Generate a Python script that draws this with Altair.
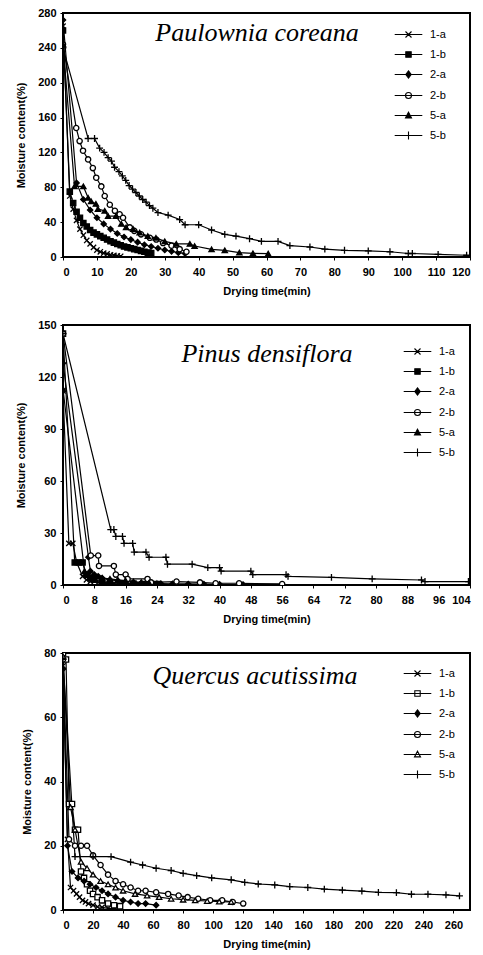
import altair as alt
import pandas as pd

SERIES = ["1-a", "1-b", "2-a", "2-b", "5-a", "5-b"]

# ---------------- Paulownia coreana ----------------
PC_1A_T = [0, 2, 3, 4, 5, 6, 7, 8, 9, 10, 11, 12, 13, 14, 15, 16, 17]
PC_1A_MC = [265, 70, 55, 42, 32, 25, 19, 15, 11, 8, 6, 4.5, 3.5, 2.5, 1.8, 1.2, 0.8]
PC_1B_T = [0, 2, 3, 4, 5, 6, 7, 8, 9, 10, 11, 12, 13, 14, 15, 16, 17, 18, 19, 20, 21, 22, 23, 24, 25, 26]
PC_1B_MC = [260, 75, 62, 52, 45, 39, 35, 31, 28, 26, 24, 22, 20, 18, 16.5, 15, 13.5, 12, 11, 10, 9, 8, 7, 6, 5, 4.5]
PC_2A_T = [0, 4, 6, 8, 10, 12, 14, 16, 18, 20, 22, 24, 26, 28, 30, 32, 34, 36]
PC_2A_MC = [272, 85, 66, 54, 45, 38, 32, 27, 23, 20, 17, 14, 12, 10, 8, 6.5, 5, 4]
PC_2B_T = [0, 3.9, 4.9, 5.9, 7.4, 8.8, 9.8, 11.3, 12.3, 13.8, 15.3, 16.7, 17.7, 19.7, 21, 23, 25.6, 27.5, 29.5, 32, 34.4, 36.4]
PC_2B_MC = [244, 148, 133, 122, 112, 102, 91, 81, 70, 60, 53, 49, 45, 34, 30, 26, 22, 20, 16, 13, 9, 6]
PC_5A_T = [0, 3.4, 6, 7.4, 8.3, 9.7, 10.3, 12.3, 13.3, 15.6, 17.2, 18.6, 20.7, 22.6, 25, 27.4, 30, 33.4, 37.4, 38.8, 43.8, 47.7, 52, 56, 60.5]
PC_5A_MC = [244, 81, 81, 68, 64, 61, 55, 53, 47, 47, 38, 34, 32, 28, 24, 22, 18, 15, 15, 12.6, 8.8, 7.7, 5, 4.2, 3.8]
PC_5B_T = [0, 7.4, 9.3, 10.8, 12.1, 13.3, 14.3, 15.2, 16.5, 17.5, 18.5, 19.5, 20.5, 21.5, 22.5, 23.5, 24.5, 25.5, 26.5, 28,
           31, 34.4, 36, 40, 43.8, 47.7, 51, 55, 58.5, 63.4, 66.9, 72.8, 77.2, 83, 90, 96.4, 101.8, 103, 110.6, 119]
PC_5B_MC = [240, 136, 136, 125, 120, 114, 110, 103, 98, 93, 88, 82, 78, 74, 70, 66, 63, 59, 56, 51,
            48, 43, 37, 37, 31, 26, 24, 21, 18, 18, 13, 11.5, 9, 7.7, 7, 6, 4, 4, 3, 2]

# ---------------- Pinus densiflora ----------------
PD_1A_T = [0, 1.5, 2.5, 3.5, 5, 6, 7, 9, 11, 13, 16, 19, 22]
PD_1A_MC = [112, 24, 24, 13, 5, 3, 2, 1.5, 1, 0.8, 0.5, 0.4, 0.3]
PD_1B_T = [0, 3, 4, 5, 6, 7, 8, 10, 12, 15, 18, 21, 24]
PD_1B_MC = [145, 13, 13, 13, 6, 4, 3, 2, 1.5, 1, 0.8, 0.6, 0.5]
PD_2A_T = [0, 6.5, 7, 8, 9, 10, 12, 14, 16, 18, 20, 22, 25, 28, 32, 36, 40, 46]
PD_2A_MC = [128, 16, 8, 6, 5, 4, 3, 2.5, 2, 1.5, 1.2, 1, 0.8, 0.7, 0.6, 0.5, 0.4, 0.3]
PD_2B_T = [0, 7.1, 9, 9.2, 13, 13.5, 16, 16.5, 21.6, 22.5, 29, 35, 39, 45, 56]
PD_2B_MC = [145, 17, 17, 11, 11, 6, 6, 3.5, 3.5, 1.5, 2, 1.5, 1, 1, 0.6]
PD_5A_T = [0, 5.5, 6.5, 8, 10, 12, 14, 16, 18, 20, 22, 24]
PD_5A_MC = [113, 8, 6, 5, 4, 3.5, 3, 2.5, 2, 1.5, 1.2, 1]
PD_5B_T = [0, 12.2, 13, 13.5, 15.2, 15.6, 17.8, 18.2, 21.2, 22, 26.3, 26.7, 33, 37, 40, 40.4, 48, 48.5, 57, 57.5, 68.6, 79, 91.6, 92.5, 103.6]
PD_5B_MC = [145, 32, 32, 28, 28, 24, 24, 19, 19, 16, 16, 12, 12, 10, 10, 8, 8, 6, 6, 5, 4.4, 3.5, 2.9, 2, 2]

# ---------------- Quercus acutissima ----------------
QA_1A_T = [0, 3, 5, 7, 9, 11, 13, 15, 17, 20, 23, 26, 30, 35]
QA_1A_MC = [76, 22, 7, 6, 5, 4, 3, 2.5, 2, 1.5, 1, 0.8, 0.5, 0.4]
QA_1B_T = [0, 2, 4, 6, 8, 10, 12, 14, 16, 18, 20, 23, 26, 30, 34, 38]
QA_1B_MC = [80, 78, 33, 33, 25, 25, 12, 10, 8, 6, 5, 4, 3, 2, 1.5, 1.2]
QA_2A_T = [0, 3, 6, 10, 14, 18, 22, 26, 30, 35, 40, 45, 50, 55, 62]
QA_2A_MC = [75, 20, 12, 10, 9, 8, 7, 6, 5, 4, 3, 2.5, 2, 2, 1.5]
QA_2B_T = [0, 4, 8, 12, 16, 20, 25, 30, 35, 40, 45, 50, 55, 62, 70, 77, 83, 90, 98, 106, 113, 120]
QA_2B_MC = [78, 22, 20, 20, 20, 17, 14, 11, 9, 8, 7, 6, 6, 5.5, 5, 4.5, 4, 3.5, 3, 3, 2.5, 2]
QA_5A_T = [0, 5, 8, 12, 16, 20, 25, 30, 35, 40, 48, 56, 64, 72, 80, 88, 96, 104, 112]
QA_5A_MC = [79, 32, 25, 15, 13, 11, 9, 8, 7, 6, 5, 4.5, 4, 3.5, 3.2, 3, 2.8, 2.6, 2.5]
QA_5B_T = [0, 8, 20, 32, 45, 53, 62, 72, 80, 89, 99, 112, 121, 130, 141, 151, 163, 174, 186, 199, 210, 222, 232, 243, 255, 264]
QA_5B_MC = [78, 16.6, 16.6, 16.6, 14.9, 14, 13, 12.3, 11.4, 10.7, 10, 9.4, 8.6, 8.1, 7.8, 7.3, 7, 6.5, 6.2, 5.9, 5.5, 5.4, 4.9, 4.9, 4.7, 4.4]

# axis ticks
PC_XTICKS = list(range(0, 121, 10))
PC_YTICKS = list(range(0, 281, 40))
PD_XTICKS = list(range(0, 105, 8))
PD_YTICKS = list(range(0, 151, 30))
QA_XTICKS = list(range(0, 261, 20))
QA_YTICKS = list(range(0, 81, 20))

# marker shapes (plot) and legend symbols (line + marker)
PLOT_SHAPES = [
    "M-1,-1L1,1M-1,1L1,-1",
    "square",
    "diamond",
    "circle",
    "triangle-up",
    "M-1.3,0H1.3M0,-1.3V1.3",
]
LINE = "M-4.6,0H4.6"
LEGEND_SHAPES = [
    LINE + "M-1,-1L1,1M-1,1L1,-1",
    LINE + "M-0.9,-0.9H0.9V0.9H-0.9Z",
    LINE + "M0,-1.2L0.9,0L0,1.2L-0.9,0Z",
    LINE + "M1,0A1,1,0,1,1,-1,0A1,1,0,1,1,1,0Z",
    LINE + "M0,-1.1L1,0.8H-1Z",
    LINE + "M0,-1.3V1.3",
]

PC_FILLS = ["black", "black", "black", "white", "black", "black"]
PD_FILLS = ["black", "black", "black", "white", "black", "black"]
QA_FILLS = ["black", "white", "black", "white", "white", "black"]
STROKES = ["black"] * 6

W = 407


def panel(name, ts, ms, fills, xdom, xticks, ydom, yticks, h, tpos, lpos):
    rows = []
    for s, tl, ml in zip(SERIES, ts, ms):
        for i, (t, m) in enumerate(zip(tl, ml)):
            rows.append({"series": s, "t": t, "mc": m, "i": i})
    df = pd.DataFrame(rows)
    x = alt.X("t:Q", scale=alt.Scale(domain=xdom, nice=False, zero=False),
              axis=alt.Axis(values=xticks, title="Drying time(min)"))
    y = alt.Y("mc:Q", scale=alt.Scale(domain=ydom, nice=False),
              axis=alt.Axis(values=yticks, title="Moisture content(%)"))
    base = alt.Chart(df)
    lines = base.mark_line(color="black", strokeWidth=1.2, clip=True).encode(
        x=x, y=y, detail="series:N", order="i:Q")
    pts = base.mark_point(color="black", strokeWidth=1.3, size=28, opacity=1, clip=True).encode(
        x=x, y=y,
        shape=alt.Shape("series:N", scale=alt.Scale(domain=SERIES, range=PLOT_SHAPES), legend=None),
        fill=alt.Fill("series:N", scale=alt.Scale(domain=SERIES, range=fills), legend=None),
    )
    leg = alt.Legend(title=None, orient="none", legendX=lpos[0], legendY=lpos[1],
                     symbolSize=36, symbolStrokeColor="black", symbolStrokeWidth=1.1,
                     labelFont="Liberation Sans", labelFontSize=11, labelColor="black",
                     labelOffset=16, rowPadding=8, padding=0)
    legl = base.transform_filter("false").mark_point(color="black", strokeWidth=1.1, opacity=1).encode(
        x=x, y=y,
        shape=alt.Shape("series:N", scale=alt.Scale(domain=SERIES, range=LEGEND_SHAPES), legend=leg),
        fill=alt.Fill("series:N", scale=alt.Scale(domain=SERIES, range=fills), legend=leg),
        stroke=alt.Stroke("series:N", scale=alt.Scale(domain=SERIES, range=STROKES), legend=leg),
    )
    ttl = alt.Chart(pd.DataFrame({"name": [name]})).mark_text(
        font="Liberation Serif", fontStyle="italic", fontSize=26, align="center",
        baseline="alphabetic", color="black").encode(
        x=alt.value(tpos[0]), y=alt.value(tpos[1]), text="name:N")
    return alt.layer(lines, pts, legl, ttl).resolve_scale(
        shape="independent", fill="independent", stroke="independent").properties(width=W, height=h)


p1 = panel("Paulownia coreana",
           [PC_1A_T, PC_1B_T, PC_2A_T, PC_2B_T, PC_5A_T, PC_5B_T],
           [PC_1A_MC, PC_1B_MC, PC_2A_MC, PC_2B_MC, PC_5A_MC, PC_5B_MC],
           PC_FILLS, [0, 120], PC_XTICKS, [0, 280], PC_YTICKS, 244, (194, 28), (340, 16))
p2 = panel("Pinus densiflora",
           [PD_1A_T, PD_1B_T, PD_2A_T, PD_2B_T, PD_5A_T, PD_5B_T],
           [PD_1A_MC, PD_1B_MC, PD_2A_MC, PD_2B_MC, PD_5A_MC, PD_5B_MC],
           PD_FILLS, [0, 104], PD_XTICKS, [0, 150], PD_YTICKS, 260, (204, 37), (349, 21))
p3 = panel("Quercus acutissima",
           [QA_1A_T, QA_1B_T, QA_2A_T, QA_2B_T, QA_5A_T, QA_5B_T],
           [QA_1A_MC, QA_1B_MC, QA_2A_MC, QA_2B_MC, QA_5A_MC, QA_5B_MC],
           QA_FILLS, [0, 271], QA_XTICKS, [0, 80], QA_YTICKS, 257, (192, 31), (349, 15))

chart = alt.vconcat(p1, p2, p3, spacing=21).properties(
    padding={"left": 14, "top": 6, "right": 5, "bottom": 0},
    background="white",
).configure_view(stroke="black", strokeWidth=2).configure_axis(
    grid=False, domain=False, tickColor="black", tickSize=3, tickWidth=1,
    labelFont="Liberation Sans", labelFontSize=11, labelFontWeight="bold", labelColor="black",
    titleFont="Liberation Sans", titleFontSize=11, titleFontWeight="bold", titleColor="black",
).configure_axisX(labelPadding=6, titlePadding=8).configure_axisY(labelPadding=4, titlePadding=11)

chart.save("out.html", embed_options={"renderer": "svg", "actions": False})
